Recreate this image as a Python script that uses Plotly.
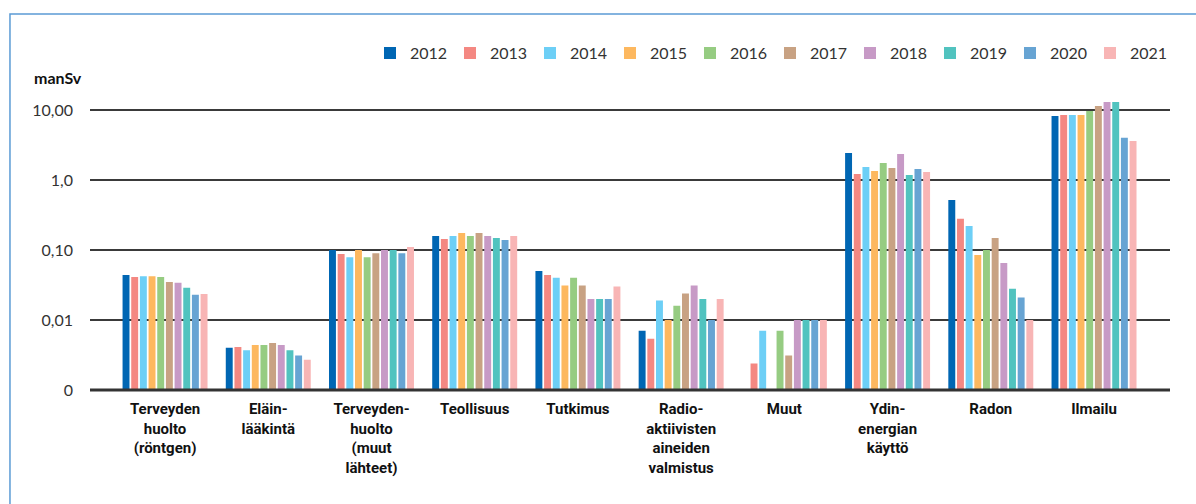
import plotly.graph_objects as go

categories = [
    "Terveyden<br>huolto<br>(röntgen)",
    "Eläin-<br>lääkintä",
    "Terveyden-<br>huolto<br>(muut<br>lähteet)",
    "Teollisuus",
    "Tutkimus",
    "Radio-<br>aktiivisten<br>aineiden<br>valmistus",
    "Muut",
    "Ydin-<br>energian<br>käyttö",
    "Radon",
    "Ilmailu",
]

years = ["2012", "2013", "2014", "2015", "2016", "2017", "2018", "2019", "2020", "2021"]

colors = ["#0066b3", "#f48882", "#6dcff6", "#fdb85f", "#96cc82",
          "#c8a283", "#c79ac6", "#51c3bf", "#67a4d3", "#f8b5b5"]

# values per year, ordered by category (manSv)
v2012 = [0.044, 0.0040, 0.100, 0.158, 0.050, 0.0070, None,   2.43, 0.52,  8.2]
v2013 = [0.041, 0.0041, 0.088, 0.144, 0.044, 0.0054, 0.0024, 1.22, 0.28,  8.5]
v2014 = [0.042, 0.0037, 0.079, 0.158, 0.040, 0.019,  0.0070, 1.53, 0.22,  8.5]
v2015 = [0.042, 0.0044, 0.100, 0.175, 0.031, 0.010,  None,   1.35, 0.085, 8.5]
v2016 = [0.041, 0.0044, 0.079, 0.158, 0.040, 0.016,  0.0070, 1.75, 0.100, 9.7]
v2017 = [0.035, 0.0047, 0.090, 0.175, 0.031, 0.024,  0.0031, 1.48, 0.148, 11.4]
v2018 = [0.034, 0.0044, 0.100, 0.158, 0.020, 0.031,  0.010,  2.35, 0.065, 13.0]
v2019 = [0.029, 0.0037, 0.100, 0.148, 0.020, 0.020,  0.010,  1.18, 0.028, 13.0]
v2020 = [0.023, 0.0031, 0.090, 0.139, 0.020, 0.010,  0.010,  1.44, 0.021, 4.0]
v2021 = [0.0235, 0.0027, 0.110, 0.158, 0.030, 0.020, 0.010,  1.30, 0.010, 3.6]

series = [v2012, v2013, v2014, v2015, v2016, v2017, v2018, v2019, v2020, v2021]

tick_vals = [0.001, 0.01, 0.1, 1, 10]
tick_text = ["0", "0,01", "0,10", "1,0", "10,00"]

fig = go.Figure()
for yr, vals, col in zip(years, series, colors):
    fig.add_trace(go.Bar(
        name=yr, x=list(range(len(categories))), y=vals,
        marker=dict(color=col, line=dict(width=0)),
    ))

fig.update_layout(
    width=1196, height=504,
    margin=dict(l=90, r=26, t=90, b=114, autoexpand=False),
    paper_bgcolor="white", plot_bgcolor="white",
    barmode="group", bargap=0.16, bargroupgap=0.2,
    font=dict(family="Lato, Open Sans, sans-serif", color="#333333"),
    legend=dict(orientation="h", x=1.0, xanchor="right", y=1.123, yanchor="middle",
                font=dict(size=16, color="#333333"), traceorder="normal",
                itemwidth=30, entrywidth=35, entrywidthmode="pixels",
                bgcolor="rgba(0,0,0,0)"),
    xaxis=dict(
        tickmode="array", tickvals=list(range(len(categories))), ticktext=categories,
        range=[-0.727, 9.736], showgrid=False, ticks="", showline=False,
        tickfont=dict(family="Roboto, Liberation Sans, sans-serif", size=15, color="#111111",
                      weight="bold"),
        ticklabelstandoff=8, tickangle=0,
    ),
    yaxis=dict(
        type="log", range=[-3, 1.2857],
        tickmode="array", tickvals=tick_vals, ticktext=tick_text,
        showgrid=True, gridcolor="#3a3a3a", gridwidth=1.5,
        zeroline=False, showline=False, ticks="",
        tickfont=dict(size=16, color="#333333"), ticklabelstandoff=16,
    ),
    shapes=[
        dict(type="rect", xref="paper", yref="paper",
             x0=-0.0741, x1=1.2, y0=-0.6, y1=1.2533,
             line=dict(color="#5b9bd5", width=1.5), fillcolor="rgba(0,0,0,0)", layer="below"),
        dict(type="line", xref="paper", yref="paper", x0=0, x1=1, y0=0, y1=0,
             line=dict(color="#333333", width=3)),
    ],
    annotations=[
        dict(text="<b>manSv</b>", xref="paper", yref="paper",
             x=-0.0537, y=1.0433, xanchor="left", yanchor="middle", showarrow=False,
             font=dict(size=16, color="#111111", family="Lato, Open Sans, sans-serif")),
    ],
)

fig.write_html("out.html")
